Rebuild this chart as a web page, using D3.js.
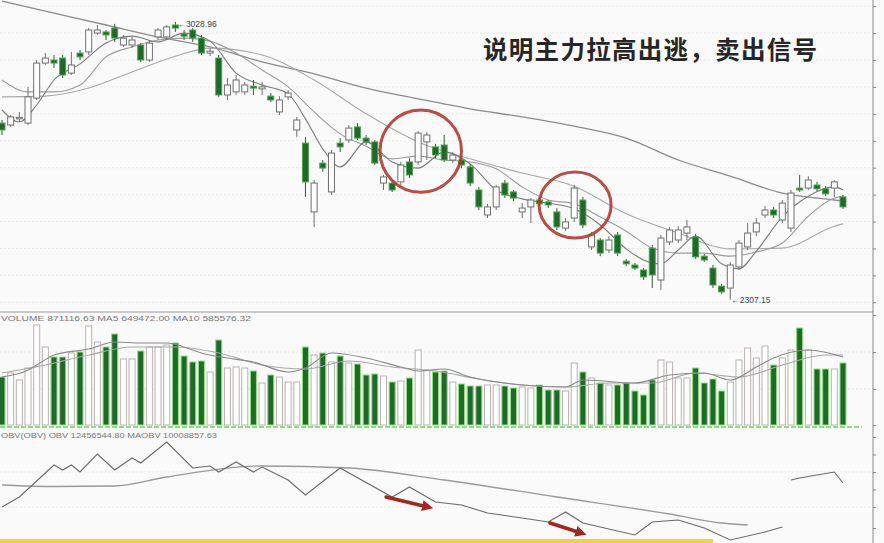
<!DOCTYPE html>
<html><head><meta charset="utf-8">
<script src="https://cdn.jsdelivr.net/npm/d3@7/dist/d3.min.js"></script>
<style>html,body{margin:0;padding:0;background:#fafafa;overflow:hidden}svg{display:block}</style>
</head><body>
<svg id="chart" width="884" height="543"></svg>
<script>
// ---------- DATA ----------
const open = [2766,2761,2778,2766,2831,2922,2930,2935,2896,2948, 2951,3000,3003,3013,2969,2969,2969,2930,2990,2990,
  3021,2998,3008,2987,2948,2935,2839,2847,2847,2862, 2855,2836,2795,2834,2748,2714,2535,2662,2587,2714,
  2722,2756,2727,2717,2610,2610,2613,2665,2665,2717, 2704,2709,2670,2670,2652,2592,2527,2548,2610,2587,
  2535,2548,2566,2561,2535,2493,2519,2566,2444,2462, 2436,2475,2407,2397,2384,2441,2358,2457,2462,2480,
  2470,2420,2389,2342,2337,2392,2444,2483,2527,2540, 2514,2493,2597,2597,2605,2595,2597,2574];
const high = [2774,2787,2795,2860,2930,2948,2943,2943,2951,2956, 3013,3021,3008,3024,2995,2990,2974,2982,3013,3021,
  3028.96,3008,3013,2995,2961,2943,2883,2891,2873,2878, 2873,2844,2836,2852,2782,2730,2618,2670,2696,2727,
  2761,2766,2735,2722,2631,2618,2665,2675,2745,2743, 2712,2735,2691,2678,2660,2600,2556,2605,2618,2592,
  2558,2571,2571,2566,2545,2519,2605,2574,2483,2467, 2472,2483,2413,2402,2389,2449,2475,2496,2498,2514,
  2478,2426,2397,2348,2405,2462,2506,2519,2550,2548, 2566,2592,2631,2628,2613,2602,2618,2579];
const low = [2735,2756,2769,2761,2826,2917,2909,2883,2891,2930, 2943,2995,2982,2977,2964,2961,2925,2925,2982,2982,
  3003,2982,2977,2943,2940,2834,2826,2839,2839,2839, 2839,2821,2787,2826,2730,2574,2496,2639,2579,2691,
  2714,2722,2709,2657,2592,2587,2605,2623,2657,2670, 2675,2665,2662,2649,2602,2540,2519,2540,2571,2563,
  2519,2506,2550,2545,2488,2485,2509,2493,2436,2420, 2428,2420,2394,2384,2358,2337,2332,2449,2454,2462,
  2413,2405,2337,2322,2307.15,2384,2436,2472,2519,2519, 2506,2483,2587,2592,2589,2576,2574,2543];
const close = [2748,2782,2781,2834,2922,2935,2922,2891,2917,2938, 3008,3008,2995,2987,2987,2982,2930,2974,3008,3016,
  3013,2992,2987,2948,2953,2839,2865,2878,2865,2857, 2860,2826,2826,2844,2774,2613,2610,2649,2688,2704,
  2753,2727,2717,2662,2626,2592,2657,2631,2740,2735, 2683,2670,2683,2657,2610,2548,2548,2600,2579,2571,
  2545,2566,2556,2553,2496,2509,2597,2501,2475,2428, 2462,2428,2400,2389,2366,2371,2467,2488,2488,2496,
  2418,2410,2345,2327,2397,2454,2480,2506,2540,2527, 2558,2584,2592,2618,2595,2582,2613,2548];

// price moving averages: [day index, value]
const ma5 = [[0,2800],[2,2769],[4,2813],[6,2878],[9,2920],[12,2974],[15,2992],[18,2977],[21,3000],[24,2979],[27,2896],
  [30,2865],[33,2842],[35,2777],[37,2699],[39,2652],[42,2717],[45,2665],[48,2649],[51,2691],[54,2660],[57,2592],[60,2569],
  [63,2558],[66,2543],[69,2501],[72,2439],[74,2410],[76,2400],[78,2436],[80,2472],[83,2400],[85,2387],[87,2433],[90,2522],
  [93,2576],[96,2600],[97,2592]];
const ma10 = [[0,2878],[3,2847],[6,2847],[9,2865],[12,2938],[15,2964],[18,2982],[21,2987],[24,2979],[27,2948],[30,2904],
  [33,2860],[36,2795],[39,2738],[42,2706],[45,2673],[48,2680],[51,2670],[54,2665],[57,2647],[60,2600],[63,2566],[66,2556],
  [69,2522],[72,2485],[75,2441],[78,2428],[81,2428],[84,2420],[87,2431],[90,2454],[93,2524],[96,2571],[97,2576]];
const ma20 = [[0,2834],[5,2836],[10,2857],[15,2899],[20,2940],[24,2961],[30,2943],[36,2878],[42,2790],[48,2717],[54,2673],
  [60,2636],[66,2602],[72,2530],[78,2480],[84,2439],[90,2441],[96,2498],[97,2504]];
const ma60 = [[0,3083],[6,3052],[12,3021],[18,2990],[24,2964],[30,2925],[36,2894],[42,2857],[48,2829],[54,2803],[60,2782],
  [66,2758],[72,2727],[78,2670],[84,2628],[90,2584],[96,2566],[97,2563]];

// volume (10k shares)
const volume = [48,52,45,57,100,78,68,68,72,73, 99,83,78,91,66,66,74,78,78,80, 82,69,63,64,53,85,57,58,57,54,
  42,50,48,43,43,78,70,72,63,69, 62,61,50,51,49,43,44,47,75,55, 53,54,43,41,39,39,40,40,39,37,
  38,37,40,35,35,34,62,53,47,42, 40,40,42,34,30,45,65,63,47,47, 57,42,46,34,43,65,77,67,79,60,
  67,75,97,75,56,56,56,62];
const volMa5 = [[0,48],[3,55],[4,60],[6,70],[10,76],[13,83],[16,82],[19,82],[21,78],[23,72],[26,67],[29,63],[33,53],[35,57],
  [38,72],[42,67],[46,58],[48,54],[51,56],[54,48],[60,40],[65,38],[67,45],[73,42],[77,50],[81,52],[84,45],[87,58],[89,67],[93,75],[97,68]];
const volMa10 = [[0,52],[5,60],[10,70],[15,78],[20,78],[25,72],[30,60],[35,56],[40,64],[45,58],[50,54],[55,46],[60,40],
  [65,38],[70,42],[75,42],[80,52],[85,48],[90,60],[95,70],[97,70]];

// OBV (10k); null = hidden by glare in the photo
const obvIdx = [0,2,6,7,8,9,11,13,15,16,19,22,24,25,27,29,30,33,35,39,45,47,50,53,56,60,63,65,67,73,75,78,81,84,88,90,90.5,91,92,96,97];
const obvVal = [720,920,1560,1460,1560,1420,1780,1460,1700,1600,2020,1500,1540,1420,1620,1420,1520,1260,960,1500,
  920,1120,820,760,600,500,420,620,400,160,420,460,300,60,220,320,null,1260,1300,1420,1200];
const obvMaIdx = [0,6,13,19,30,40,51,64,77,83,86];
const obvMaVal = [1160,1130,1140,1320,1540,1500,1260,920,580,400,360];

// grid / tick values
const priceTicks = [2300,2370,2440,2510,2580,2650,2720,2790,2860,2930,3000,3070];
const volTicks = [36,73];
const obvTicks = [720,1420];

// annotations (data units)
const circleIdx = [48.3,66.1], circlePrice = [2693,2553], circleIdxR = [4.7,4.15], circlePriceR = [107,86];
const arrowFromIdx = [44.3,63.2], arrowFromObv = [920,400], arrowToIdx = [49.1,66.8], arrowToObv = [720,200];
const title = "说明主力拉高出逃，卖出信号";
const volLabel = "VOLUME 871116.63 MA5 649472.00 MA10 585576.32";
const obvLabel = "OBV(OBV) OBV 12456544.80 MAOBV 10008857.63";

// ---------- DRAW ----------
const svg = d3.select("#chart");
const N = open.length;
const x = d3.scaleLinear().domain([0, N-1]).range([2, 843]);
const yP = d3.scaleLinear().domain([2293, 3086]).range([305, 0]);
const yV = d3.scaleLinear().domain([0, 112]).range([425, 313]);
const yO = d3.scaleLinear().domain([0, 2260]).range([543, 430]);
const idx = d3.range(N);
const up = i => close[i] >= open[i];

svg.append("rect").attr("width",884).attr("height",543).attr("fill","#fafafa");

// grids
svg.append("g").selectAll("line").data(priceTicks).join("line")
  .attr("x1",0).attr("x2",873).attr("y1",d=>yP(d)).attr("y2",d=>yP(d))
  .attr("stroke","#e3e3e3").attr("stroke-width",0.8).attr("stroke-dasharray","2,2");
svg.append("g").selectAll("line").data(volTicks).join("line")
  .attr("x1",0).attr("x2",873).attr("y1",d=>yV(d)).attr("y2",d=>yV(d))
  .attr("stroke","#e3e3e3").attr("stroke-width",0.8).attr("stroke-dasharray","2,2");
svg.append("g").selectAll("line").data(obvTicks).join("line")
  .attr("x1",0).attr("x2",873).attr("y1",d=>yO(d)).attr("y2",d=>yO(d))
  .attr("stroke","#e8e8e8").attr("stroke-width",0.8).attr("stroke-dasharray","2,2");

// panel borders
svg.append("line").attr("x1",0).attr("x2",873).attr("y1",yV(112)-1).attr("y2",yV(112)-1).attr("stroke","#9a9a9a").attr("stroke-width",1);
svg.append("line").attr("x1",0).attr("x2",862).attr("y1",yV(0)+2).attr("y2",yV(0)+2)
  .attr("stroke","#6fcf62").attr("stroke-width",1.6).attr("stroke-dasharray","5,2");
svg.append("line").attr("x1",873).attr("x2",873).attr("y1",0).attr("y2",543).attr("stroke","#8a8a8a").attr("stroke-width",1);
svg.append("g").attr("transform","translate(873,0)").call(d3.axisRight(yP).tickValues(priceTicks).tickSize(3).tickFormat(""))
  .call(g=>{g.select(".domain").remove(); g.selectAll("line").attr("stroke","#888");});
svg.append("g").attr("transform","translate(873,0)").call(d3.axisRight(yV).tickValues([0,36,73,110]).tickSize(3).tickFormat(""))
  .call(g=>{g.select(".domain").remove(); g.selectAll("line").attr("stroke","#888");});
svg.append("g").attr("transform","translate(873,0)").call(d3.axisRight(yO).tickValues([300,720,1070,1420,1770,2120]).tickSize(3).tickFormat(""))
  .call(g=>{g.select(".domain").remove(); g.selectAll("line").attr("stroke","#888");});

// MA lines (price)
const lineP = d3.line().x(d=>x(d[0])).y(d=>yP(d[1])).curve(d3.curveMonotoneX);
[[ma60,"#8c8c8c",1.3],[ma20,"#a8a8a8",1.1],[ma10,"#9c9c9c",1.1],[ma5,"#7c7c7c",1.1]].forEach(([d,c,w])=>{
  svg.append("path").datum(d).attr("d",lineP).attr("fill","none").attr("stroke",c).attr("stroke-width",w);
});

// candles
const cw = 6;
const cg = svg.append("g");
cg.selectAll("line.w").data(idx).join("line").attr("class","w")
  .attr("x1",i=>x(i)).attr("x2",i=>x(i)).attr("y1",i=>yP(high[i])).attr("y2",i=>yP(low[i]))
  .attr("stroke",i=>up(i)?"#6f6f6f":"#2f5f33").attr("stroke-width",1);
cg.selectAll("rect.b").data(idx).join("rect").attr("class","b")
  .attr("x",i=>x(i)-cw/2).attr("width",cw)
  .attr("y",i=>yP(Math.max(open[i],close[i])))
  .attr("height",i=>Math.max(1.5, Math.abs(yP(open[i])-yP(close[i]))))
  .attr("fill",i=>up(i)?"#ffffff":"#22682c")
  .attr("stroke",i=>up(i)?"#6f6f6f":"#4ea54e").attr("stroke-width",1);

// high / low labels
const iHi = d3.maxIndex(high), iLo = d3.minIndex(low);
svg.append("text").attr("x",x(iHi)+2).attr("y",yP(high[iHi])+5)
  .attr("font-family","Liberation Sans, Arial").attr("font-size",8.5).attr("fill","#444")
  .text("\u2190" + high[iHi].toFixed(2));
svg.append("text").attr("x",x(iLo)+1).attr("y",yP(low[iLo])+3)
  .attr("font-family","Liberation Sans, Arial").attr("font-size",8.5).attr("fill","#444")
  .text("\u2190" + low[iLo].toFixed(2));

// red circles
svg.append("g").selectAll("ellipse").data(circleIdx).join("ellipse")
  .attr("cx",(d,k)=>x(d)).attr("cy",(d,k)=>yP(circlePrice[k]))
  .attr("rx",(d,k)=>x(circleIdxR[k])-x(0)).attr("ry",(d,k)=>yP(3086-circlePriceR[k])-yP(3086))
  .attr("fill","none").attr("stroke","#b33a30").attr("stroke-width",3).attr("opacity",0.9);

// title
svg.append("text").attr("x",483).attr("y",59)
  .attr("font-family","Noto Sans CJK SC").attr("font-weight","bold").attr("font-size",24.5)
  .attr("letter-spacing",1.3).attr("fill","#262626").text(title);

// volume bars
const vw = 6;
svg.append("g").selectAll("rect").data(idx).join("rect")
  .attr("x",i=>x(i)-vw/2).attr("width",vw)
  .attr("y",i=>yV(volume[i])).attr("height",i=>yV(0)-yV(volume[i]))
  .attr("fill",i=>up(i)?"#ffffff":"#1f6a2b")
  .attr("stroke",i=>up(i)?"#bcb0b0":"#8ee07c").attr("stroke-width",1);
const lineV = d3.line().x(d=>x(d[0])).y(d=>yV(d[1])).curve(d3.curveMonotoneX);
svg.append("path").datum(volMa10).attr("d",lineV).attr("fill","none").attr("stroke","#a8a8a8").attr("stroke-width",1.1);
svg.append("path").datum(volMa5).attr("d",lineV).attr("fill","none").attr("stroke","#8a8a8a").attr("stroke-width",1.1);

svg.append("text").attr("x",1).attr("y",321).attr("font-family","Liberation Sans, Arial").attr("font-size",8)
  .attr("fill","#777").attr("textLength",250).attr("lengthAdjust","spacingAndGlyphs").text(volLabel);
svg.append("text").attr("x",1).attr("y",438).attr("font-family","Liberation Sans, Arial").attr("font-size",8)
  .attr("fill","#777").attr("textLength",216).attr("lengthAdjust","spacingAndGlyphs").text(obvLabel);

// OBV
svg.append("path").datum(obvMaIdx.map((d,k)=>[d,obvMaVal[k]]))
  .attr("d",d3.line().x(d=>x(d[0])).y(d=>yO(d[1])).curve(d3.curveMonotoneX))
  .attr("fill","none").attr("stroke","#9a9a9a").attr("stroke-width",1.3);
svg.append("path").datum(obvIdx.map((d,k)=>[d,obvVal[k]]))
  .attr("d",d3.line().defined(d=>d[1]!==null).x(d=>x(d[0])).y(d=>yO(d[1])))
  .attr("fill","none").attr("stroke","#6a6a6a").attr("stroke-width",1.1);

// red arrows
const defs = svg.append("defs");
defs.append("marker").attr("id","ah").attr("viewBox","0 0 10 10").attr("refX",5).attr("refY",5)
  .attr("markerWidth",3.2).attr("markerHeight",3.2).attr("orient","auto")
  .append("path").attr("d","M0,0 L10,5 L0,10 z").attr("fill","#a3261f");
svg.append("g").selectAll("line").data(arrowFromIdx).join("line")
  .attr("x1",(d)=>x(d)).attr("y1",(d,k)=>yO(arrowFromObv[k]))
  .attr("x2",(d,k)=>x(arrowToIdx[k])).attr("y2",(d,k)=>yO(arrowToObv[k]))
  .attr("stroke","#a3261f").attr("stroke-width",3.5).attr("stroke-linecap","round").attr("marker-end","url(#ah)");

// yellow strip at bottom
svg.append("rect").attr("x",0).attr("y",539).attr("width",713).attr("height",4).attr("fill","#f2cf45");
</script>
</body></html>
